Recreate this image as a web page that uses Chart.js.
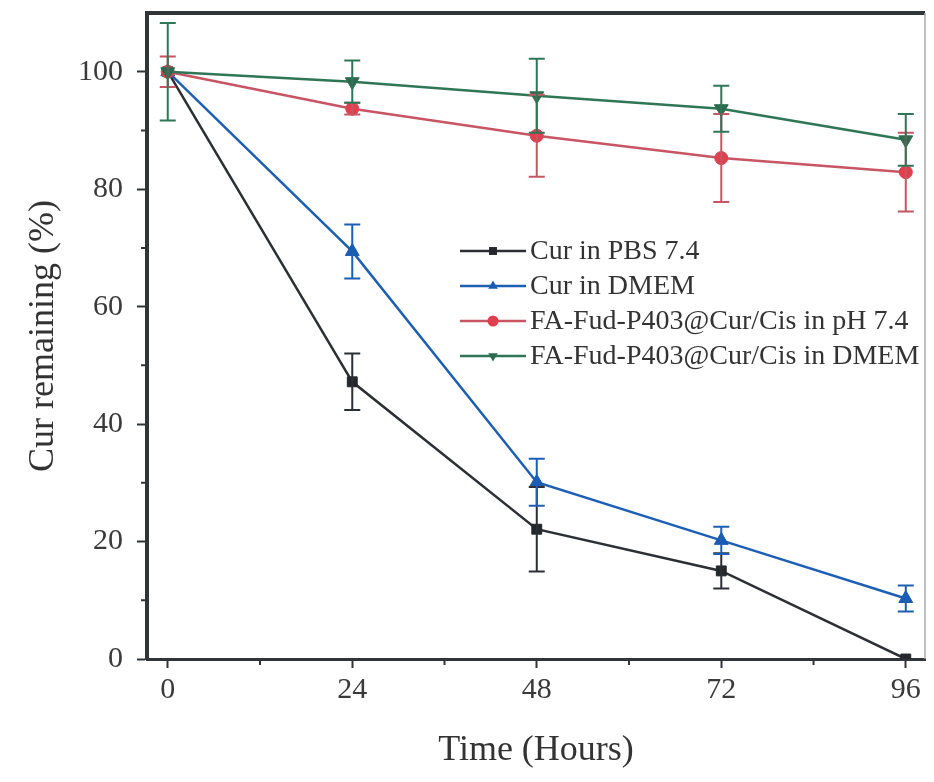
<!DOCTYPE html>
<html>
<head>
<meta charset="utf-8">
<script src="https://cdn.jsdelivr.net/npm/chart.js@4.4.1/dist/chart.umd.min.js"></script>
<style>
  html, body { margin: 0; padding: 0; background: #ffffff; }
  #wrap { width: 934px; height: 782px; position: relative; }
</style>
</head>
<body>
<div id="wrap"><canvas id="c" width="934" height="782"></canvas></div>
<script>
// ---- data ----
const hours = [0, 24, 48, 72, 96];
const xTickValues = [0, 24, 48, 72, 96];
const xMinorTicks = [12, 36, 60, 84];
const yTickValues = [0, 20, 40, 60, 80, 100];
const yMinorTicks = [10, 30, 50, 70, 90];

const seriesLabels = [
  'Cur in PBS 7.4',
  'Cur in DMEM',
  'FA-Fud-P403@Cur/Cis in pH 7.4',
  'FA-Fud-P403@Cur/Cis in DMEM'
];
const curPBS      = [100, 47.2, 22.1, 15.0, 0];
const curPBSErr   = [0, 4.8, 7.2, 3.0, 0];
const curDMEM     = [100, 69.4, 30.1, 20.2, 10.3];
const curDMEMErr  = [0, 4.6, 4.0, 2.3, 2.2];
const nanoPH      = [100, 93.7, 89.1, 85.3, 82.9];
const nanoPHErr   = [2.6, 1.0, 7.0, 7.5, 6.7];
const nanoDMEM    = [100, 98.3, 95.9, 93.7, 88.4];
const nanoDMEMErr = [8.3, 3.6, 6.3, 3.9, 4.4];

const xTitle = 'Time (Hours)';
const yTitle = 'Cur remaining (%)';

// ---- styles ----
const FONT = "'Liberation Serif', 'Times New Roman', serif";
const AXIS = '#30353a';
const styles = [
  { line: '#2c2f33', fill: '#24282c', shape: 'rect', radius: 7, rotation: 0 },
  { line: '#1d5fb4', fill: '#1a5cb3', shape: 'triangle', radius: 8, rotation: 0 },
  { line: '#c85563', fill: '#e0404e', shape: 'circle', radius: 6.5, rotation: 0 },
  { line: '#2f7657', fill: '#2c6b4f', shape: 'triangle', radius: 8, rotation: 180 }
];
const values = [curPBS, curDMEM, nanoPH, nanoDMEM];
const errors = [curPBSErr, curDMEMErr, nanoPHErr, nanoDMEMErr];

const datasets = values.map((vals, k) => ({
  label: seriesLabels[k],
  data: hours.map((h, i) => ({ x: h, y: vals[i] })),
  errors: errors[k],
  borderColor: styles[k].line,
  backgroundColor: styles[k].fill,
  borderWidth: 2.5,
  pointStyle: styles[k].shape,
  pointRadius: styles[k].radius,
  pointRotation: styles[k].rotation,
  pointBackgroundColor: styles[k].fill,
  pointBorderColor: styles[k].fill,
  pointBorderWidth: 1,
  tension: 0,
  order: 3 - k
}));

const errorBars = {
  id: 'errorBars',
  afterDatasetsDraw(chart) {
    const ctx = chart.ctx;
    const ys = chart.scales.y;
    chart.data.datasets.forEach((ds, di) => {
      const meta = chart.getDatasetMeta(di);
      ctx.save();
      ctx.strokeStyle = ds.borderColor;
      ctx.lineWidth = 2;
      meta.data.forEach((pt, i) => {
        const e = ds.errors[i];
        if (!e) return;
        const v = ds.data[i].y;
        const top = ys.getPixelForValue(v + e);
        const bot = ys.getPixelForValue(v - e);
        const x = pt.x;
        const cap = 8;
        ctx.beginPath();
        ctx.moveTo(x, top); ctx.lineTo(x, bot);
        ctx.moveTo(x - cap, top); ctx.lineTo(x + cap, top);
        ctx.moveTo(x - cap, bot); ctx.lineTo(x + cap, bot);
        ctx.stroke();
      });
      ctx.restore();
    });
  }
};

function drawMarker(ctx, shape, x, y, r, rot) {
  ctx.beginPath();
  if (shape === 'circle') {
    ctx.arc(x, y, r, 0, Math.PI * 2);
  } else if (shape === 'rect') {
    ctx.rect(x - r * 0.72, y - r * 0.72, r * 1.44, r * 1.44);
  } else {
    const s = rot === 180 ? -1 : 1;
    ctx.moveTo(x, y - s * r);
    ctx.lineTo(x + r * 0.87, y + s * r * 0.5);
    ctx.lineTo(x - r * 0.87, y + s * r * 0.5);
    ctx.closePath();
  }
  ctx.fill();
}

const frameAndLegend = {
  id: 'frameAndLegend',
  afterDraw(chart) {
    const ctx = chart.ctx;
    const a = chart.chartArea;
    const xs = chart.scales.x, ys = chart.scales.y;
    ctx.save();
    // top spine
    ctx.strokeStyle = AXIS;
    ctx.lineWidth = 4;
    ctx.beginPath();
    ctx.moveTo(a.left - 2, a.top);
    ctx.lineTo(a.right, a.top);
    ctx.stroke();
    // right spine (faint)
    ctx.strokeStyle = '#a9abad';
    ctx.lineWidth = 1.5;
    ctx.beginPath();
    ctx.moveTo(a.right, a.top);
    ctx.lineTo(a.right, a.bottom);
    ctx.stroke();
    // minor ticks
    ctx.strokeStyle = AXIS;
    ctx.lineWidth = 2;
    ctx.beginPath();
    xMinorTicks.forEach(v => {
      const px = xs.getPixelForValue(v);
      ctx.moveTo(px, a.bottom); ctx.lineTo(px, a.bottom + 6);
    });
    yMinorTicks.forEach(v => {
      const py = ys.getPixelForValue(v);
      ctx.moveTo(a.left, py); ctx.lineTo(a.left - 6, py);
    });
    ctx.stroke();
    // legend
    const lx0 = 460, lx1 = 526, tx = 530, y0 = 251, dy = 35;
    ctx.font = "28px " + FONT;
    ctx.textBaseline = 'middle';
    ctx.textAlign = 'left';
    chart.data.datasets.forEach((ds, k) => {
      const y = y0 + k * dy;
      ctx.strokeStyle = ds.borderColor;
      ctx.lineWidth = 2.5;
      ctx.beginPath();
      ctx.moveTo(lx0, y); ctx.lineTo(lx1, y);
      ctx.stroke();
      ctx.fillStyle = styles[k].fill;
      drawMarker(ctx, styles[k].shape, (lx0 + lx1) / 2, y, 5.5, styles[k].rotation);
      ctx.fillStyle = '#333333';
      ctx.fillText(ds.label, tx, y + 1);
    });
    ctx.restore();
  }
};

new Chart(document.getElementById('c'), {
  type: 'line',
  data: { datasets },
  options: {
    responsive: false,
    animation: false,
    devicePixelRatio: 1,
    layout: { padding: { left: 0, top: 13, right: 9, bottom: 0 } },
    plugins: {
      legend: { display: false },
      tooltip: { enabled: false }
    },
    scales: {
      x: {
        type: 'linear',
        min: -2.7,
        max: 98.5,
        afterBuildTicks: (s) => { s.ticks = xTickValues.map(v => ({ value: v })); },
        afterFit: (s) => { s.height = 123; s.paddingLeft = 0; s.paddingRight = 0; },
        grid: { display: true, drawOnChartArea: false, drawTicks: true, tickLength: 9, tickWidth: 2, tickColor: AXIS },
        border: { display: true, color: AXIS, width: 3 },
        ticks: { color: '#3a3a3a', font: { family: FONT, size: 30 }, padding: 4, maxRotation: 0, autoSkip: false },
        title: { display: true, text: xTitle, color: '#333333', font: { family: FONT, size: 36 }, padding: { top: 0, bottom: 10 } }
      },
      y: {
        type: 'linear',
        min: 0,
        max: 110,
        afterBuildTicks: (s) => { s.ticks = yTickValues.map(v => ({ value: v })); },
        afterFit: (s) => { s.width = 147; s.paddingTop = 0; s.paddingBottom = 0; },
        grid: { display: true, drawOnChartArea: false, drawTicks: true, tickLength: 10, tickWidth: 2, tickColor: AXIS },
        border: { display: true, color: AXIS, width: 4 },
        ticks: { color: '#3a3a3a', font: { family: FONT, size: 30 }, padding: 14, autoSkip: false },
        title: { display: true, text: yTitle, color: '#333333', font: { family: FONT, size: 36 }, padding: { top: 22, bottom: 0 } }
      }
    }
  },
  plugins: [errorBars, frameAndLegend]
});
</script>
</body>
</html>
